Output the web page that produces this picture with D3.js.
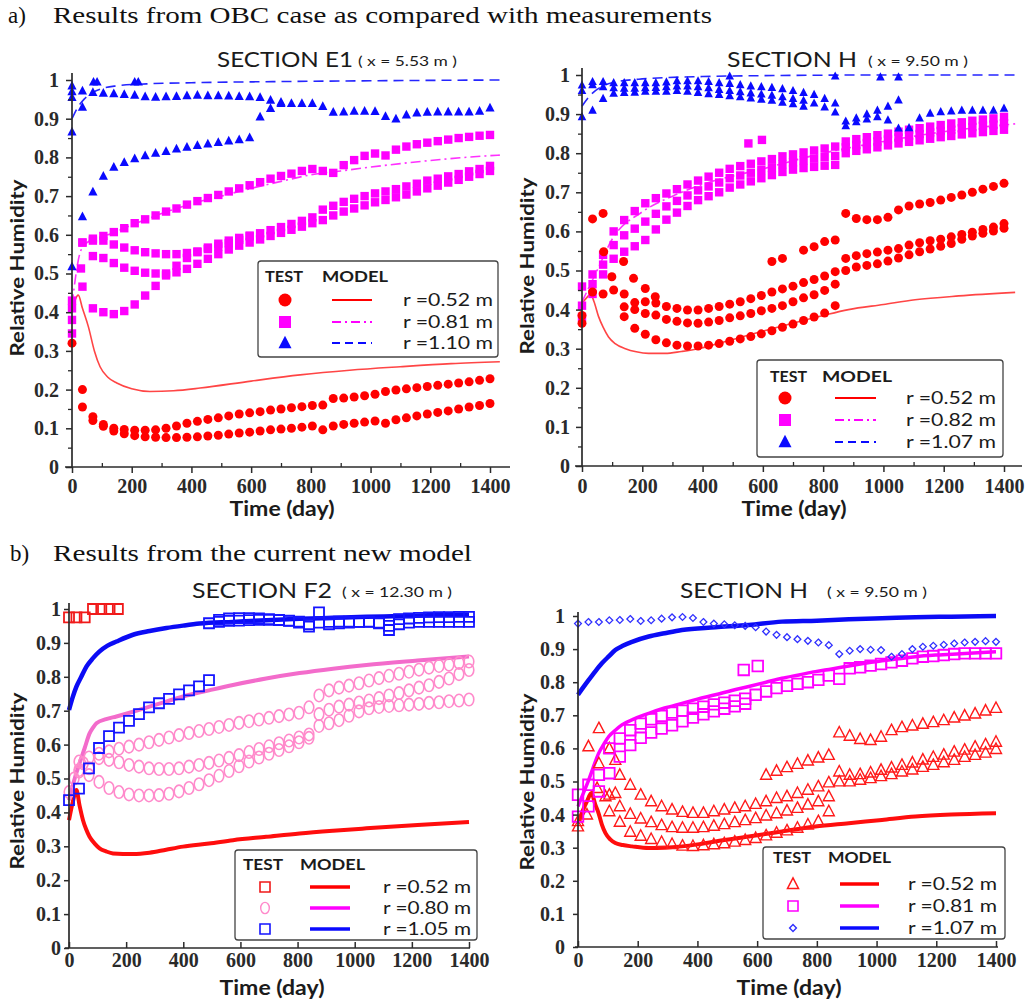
<!DOCTYPE html>
<html>
<head>
<meta charset="utf-8">
<script src="https://d3js.org/d3.v7.min.js"></script>
<style>
  body { margin: 0; background: #fff; }
  svg { display: block; }
</style>
</head>
<body>
<div id="chart"></div>
<script>
var _ = null;

// time grid (day) used by the test series: one reading every 35 days
var days = [0,35,70,105,140,175,210,245,280,315,350,385,420,455,490,525,560,595,630,665,
            700,735,770,805,840,875,910,945,980,1015,1050,1085,1120,1155,1190,1225,1260,1295,1330,1365,1400];
var timeTicks = [0,200,400,600,800,1000,1200,1400];
var timeMinor = [100,300,500,700,900,1100,1300];
var rhTicks = [0,0.1,0.2,0.3,0.4,0.5,0.6,0.7,0.8,0.9,1];
var rhMinor = [0.05,0.15,0.25,0.35,0.45,0.55,0.65,0.75,0.85,0.95];

// ---------- a) OBC case, SECTION E1 ----------
var e1RedA = [0.32,0.2,0.13,0.11,0.1,0.097,0.095,0.095,0.096,0.1,
  0.106,0.113,0.118,0.123,0.127,0.132,0.137,0.14,0.143,0.147,
  0.15,0.153,0.156,0.159,0.16,0.177,0.178,0.181,0.184,0.188,
  0.195,0.199,0.202,0.205,0.208,0.211,0.214,0.217,0.22,0.224,0.228];
var e1RedB = [_,0.155,0.12,0.105,0.093,0.086,0.081,0.078,0.077,0.076,
  0.076,0.077,0.078,0.08,0.082,0.085,0.088,0.09,0.093,0.096,
  0.098,0.1,0.103,0.106,0.096,0.106,0.11,0.113,0.116,0.119,
  0.113,0.122,0.127,0.132,0.137,0.141,0.145,0.15,0.155,0.159,0.164];
var e1MagA = [0.41,0.58,0.585,0.597,0.607,0.617,0.63,0.64,0.65,0.66,
  0.668,0.678,0.687,0.695,0.703,0.712,0.72,0.728,0.736,0.745,
  0.752,0.758,0.765,0.77,0.765,0.76,0.78,0.793,0.804,0.81,
  0.805,0.82,0.828,0.834,0.838,0.842,0.846,0.85,0.853,0.856,0.858];
var e1MagB = [_,0.58,0.59,0.585,0.575,0.567,0.56,0.555,0.552,0.55,
  0.55,0.553,0.557,0.563,0.57,0.578,0.587,0.596,0.604,0.612,
  0.62,0.628,0.636,0.645,0.665,0.675,0.685,0.693,0.7,0.707,
  0.712,0.718,0.725,0.732,0.74,0.745,0.751,0.757,0.764,0.77,0.778];
var e1MagC = [_,_,0.545,0.54,0.527,0.515,0.507,0.502,0.5,0.5,
  0.503,0.512,0.525,0.538,0.55,0.562,0.572,0.58,0.588,0.597,
  0.605,0.613,0.621,0.63,0.638,0.65,0.66,0.668,0.676,0.684,
  0.69,0.697,0.704,0.712,0.72,0.727,0.735,0.742,0.75,0.757,0.765];
var e1MagD = [0.38,0.466,0.41,0.4,0.395,0.403,0.42,0.443,0.468,0.495,
  0.52,0.54,0.555,0.567,0.577,0.585,0.592,0.598];
var e1MagX = [[0,0.43],[0,0.345],[30,0.513]];
var e1BlueA = [0.97,0.972,0.968,0.966,0.965,0.963,0.961,0.957,0.956,0.957,
  0.958,0.96,0.961,0.96,0.96,0.959,0.958,0.957,0.955,0.948,
  0.943,0.94,0.94,0.94,0.932,0.917,0.918,0.92,0.92,0.919,
  0.906,0.9,0.91,0.915,0.917,0.918,0.918,0.918,0.918,0.92,0.928];
var e1BlueB = [0.518,0.647,0.711,0.752,0.775,0.787,0.797,0.805,0.811,0.816,
  0.822,0.827,0.831,0.835,0.839,0.843,0.846,0.851,0.905,0.927,0.94];
var e1BlueX = [[0,0.866],[0,0.985],[0,0.955],[35,0.93],[72,0.995],[84,0.995],[210,0.995],[222,0.995]];
var e1RedModel = [[0,0.40],[10,0.43],[21,0.444],[35,0.41],[55,0.362],[75,0.30],[94,0.259],[120,0.232],
  [150,0.217],[200,0.202],[261,0.195],[340,0.197],[429,0.204],[600,0.222],[764,0.238],[930,0.25],
  [1099,0.259],[1270,0.267],[1433,0.272]];
var e1MagModel = [[0,0.42],[30,0.56],[60,0.585],[120,0.6],[200,0.625],[300,0.655],[400,0.68],[500,0.7],
  [600,0.72],[700,0.738],[800,0.755],[900,0.765],[1000,0.775],[1100,0.784],[1200,0.792],[1300,0.799],[1433,0.806]];
var e1BlueModel = [[0,0.9],[20,0.93],[40,0.95],[70,0.968],[100,0.978],[150,0.985],[250,0.99],[400,0.993],
  [700,0.996],[1000,0.998],[1433,1.0]];

// ---------- a) OBC case, SECTION H ----------
var haRedA = [_,0.632,0.646,_,_,_,_,_,_,_,
  _,_,_,_,_,_,_,_,0.523,0.531,
  _,0.552,0.561,0.574,0.578,0.646,0.633,0.63,0.63,0.636,
  0.655,0.665,0.67,0.674,0.68,0.687,0.693,0.7,0.708,0.715,0.723];
var haRedB = [0.365,0.445,0.44,0.45,0.44,0.418,0.42,0.417,0.408,0.403,
  0.399,0.399,0.403,0.408,0.414,0.42,0.428,0.436,0.445,0.453,
  0.46,0.469,0.477,0.486,0.497,0.531,0.538,0.543,0.547,0.552,
  0.556,0.565,0.571,0.576,0.58,0.586,0.592,0.598,0.605,0.611,0.62];
var haRedC = [_,_,_,_,0.407,0.4,0.39,0.386,0.375,0.37,
  0.366,0.365,0.368,0.372,0.379,0.384,0.39,0.397,0.403,0.41,
  0.42,0.43,0.438,0.449,0.465,0.5,0.509,0.513,0.517,0.524,
  0.532,0.54,0.548,0.555,0.562,0.569,0.58,0.588,0.595,0.601,0.608];
var haRedD = [_,_,_,_,0.382,0.352,0.337,0.323,0.315,0.309,
  0.307,0.307,0.309,0.313,0.319,0.325,0.331,0.338,0.346,0.355,
  0.363,0.372,0.381,0.391,0.41];
var haRedX = [[0,0.385],[72,0.548],[99,0.484],[138,0.523],[171,0.48],[210,0.454],[243,0.433]];
var haMagA = [0.459,0.49,0.54,0.6,0.629,0.652,0.672,0.685,0.697,0.708,
  0.72,0.73,0.74,0.75,0.76,0.767,0.773,0.779,0.785,0.792,
  0.797,0.802,0.807,0.812,0.817,0.83,0.836,0.841,0.846,0.85,
  0.855,0.86,0.864,0.868,0.872,0.876,0.879,0.883,0.886,0.889,0.893];
var haMagB = [0.38,0.44,0.49,0.53,0.548,0.562,0.578,0.605,0.63,0.648,
  0.665,0.68,0.69,0.7,0.712,0.72,0.728,0.736,0.744,0.752,
  0.758,0.762,0.765,0.768,0.77,0.8,0.806,0.81,0.815,0.82,
  0.825,0.829,0.833,0.837,0.841,0.844,0.848,0.851,0.854,0.857,0.86];
var haMagC = [0.41,0.465,0.515,0.565,0.59,0.607,0.625,0.645,0.664,0.678,
  0.692,0.705,0.715,0.725,0.736,0.743,0.75,0.757,0.764,0.772,
  0.777,0.782,0.786,0.79,0.793,0.815,0.821,0.826,0.83,0.835,
  0.84,0.845,0.849,0.853,0.857,0.86,0.864,0.867,0.87,0.873,0.877];
var haMagX = [[552,0.825],[597,0.834]];
var haBlueA = [0.974,0.983,0.983,0.98,0.98,0.98,0.98,0.98,0.982,0.985,
  0.985,0.985,0.983,0.98,0.978,0.975,0.972,0.97,0.968,0.965,
  0.96,0.955,0.95,0.94,0.928,0.882,0.89,0.9,0.91,0.92,
  0.936,0.865,0.89,0.902,0.906,0.908,0.91,0.91,0.91,0.91,0.915];
var haBlueB = [0.96,0.975,0.97,0.967,0.966,0.966,0.967,0.968,0.97,0.972,
  0.972,0.97,0.967,0.963,0.96,0.957,0.954,0.951,0.948,0.944,
  0.94,0.935,0.928,0.918,0.905,0.87,0.88,0.887,0.893,0.885,0.864];
var haBlueC = [0.893,0.91,0.94,0.953,0.955,0.956,0.958,0.958,0.958,0.96,
  0.958,0.955,0.952,0.95,0.947,0.944,0.941,0.938,0.935,0.93,0.926,0.92];
var haBlueX = [[490,0.997],[840,0.997],[990,0.995],[1050,0.995]];
var haRedModel = [[0,0.416],[15,0.43],[28,0.44],[40,0.42],[55,0.382],[70,0.355],[88,0.33],[110,0.313],
  [144,0.30],[180,0.292],[221,0.288],[276,0.288],[330,0.293],[387,0.30],[470,0.317],[553,0.335],
  [635,0.352],[718,0.369],[800,0.385],[884,0.40],[1000,0.413],[1105,0.425],[1250,0.435],[1437,0.444]];
var haMagModel = [[0,0.42],[50,0.5],[100,0.58],[200,0.65],[300,0.69],[400,0.72],[600,0.76],[800,0.8],
  [1000,0.83],[1200,0.855],[1437,0.875]];
var haBlueModel = [[0,0.92],[30,0.95],[60,0.968],[100,0.98],[200,0.99],[400,0.996],[700,0.999],
  [1000,1.0],[1437,1.0]];

// ---------- b) new model, SECTION F2 ----------
var f2RedSq = [[0,0.975],[26,0.975],[55,0.975],[84,1.0],[113,1.0],[142,1.0],[171,1.0]];
var f2PinkA = [_,0.55,0.562,0.573,0.58,0.588,0.594,0.6,0.607,0.614,
  0.621,0.628,0.634,0.64,0.646,0.652,0.658,0.664,0.669,0.674,
  0.679,0.684,0.689,0.694,0.71,0.745,0.76,0.768,0.774,0.781,
  0.789,0.796,0.803,0.809,0.815,0.821,0.827,0.832,0.836,0.841,0.845];
var f2PinkB = [_,0.52,0.53,0.56,0.555,0.548,0.54,0.535,0.53,0.528,
  0.528,0.53,0.535,0.54,0.546,0.553,0.561,0.569,0.578,0.587,
  0.595,0.604,0.612,0.621,0.63,0.69,0.703,0.712,0.718,0.724,
  0.73,0.737,0.745,0.752,0.76,0.768,0.775,0.785,0.795,0.808,0.82];
var f2PinkC = [_,0.525,0.51,0.49,0.472,0.46,0.453,0.45,0.45,0.451,
  0.455,0.462,0.472,0.483,0.495,0.508,0.522,0.536,0.55,0.562,
  0.573,0.584,0.595,0.607,0.62,0.655,0.663,0.672,0.685,0.698,
  0.707,0.711,0.714,0.716,0.718,0.72,0.723,0.725,0.728,0.73,0.733];
var f2PinkX = [[0,0.46],[18,0.5],[50,0.545]];
var f2BlueEarly = [0.436,0.47,0.53,0.59,0.625,0.65,0.67,0.69,0.71,0.722,
  0.735,0.748,0.76,0.772,0.79];
var f2BlueA = [_,_,_,_,_,_,_,_,_,_,
  _,_,_,_,0.958,0.962,0.965,0.966,0.967,0.968,
  0.968,0.967,0.966,0.963,0.955,0.96,0.962,0.963,0.963,0.962,
  0.963,0.96,0.938,0.955,0.96,0.962,0.962,0.962,0.962,0.962,0.962];
var f2BlueB = [_,_,_,_,_,_,_,_,_,_,
  _,_,_,_,_,0.968,0.972,0.973,0.973,0.972,
  0.97,0.968,0.965,0.96,0.948,0.99,0.955,0.958,0.96,0.962,
  0.962,0.958,0.95,0.97,0.972,0.974,0.975,0.976,0.976,0.977,0.977];
var f2RedModel = [[0,0.377],[13,0.43],[26,0.466],[37,0.42],[49,0.377],[60,0.35],[72,0.328],[90,0.308],
  [107,0.294],[130,0.285],[154,0.279],[224,0.277],[282,0.281],[340,0.29],[399,0.299],[490,0.308],
  [574,0.318],[690,0.328],[807,0.338],[924,0.346],[1041,0.353],[1220,0.363],[1400,0.372]];
var f2PinkModel = [[0,0.436],[20,0.5],[37,0.545],[55,0.59],[72,0.633],[84,0.65],[96,0.663],[130,0.675],
  [166,0.683],[224,0.697],[282,0.712],[340,0.727],[399,0.742],[490,0.76],[574,0.776],[690,0.795],
  [807,0.811],[924,0.824],[1041,0.835],[1220,0.848],[1400,0.86]];
var f2BlueModel = [[0,0.702],[13,0.74],[26,0.771],[43,0.8],[61,0.83],[84,0.855],[107,0.875],[135,0.892],
  [166,0.904],[224,0.924],[282,0.935],[341,0.944],[399,0.951],[457,0.957],[574,0.962],[691,0.967],
  [807,0.971],[924,0.974],[1041,0.977],[1157,0.979],[1280,0.982],[1400,0.984]];

// ---------- b) new model, SECTION H ----------
var hbTriA = [_,0.606,0.661,_,_,_,_,_,_,_,
  _,_,_,_,_,_,_,_,0.52,0.532,
  0.543,0.553,0.563,0.572,0.58,0.648,0.638,0.628,0.625,0.635,
  0.655,0.664,0.669,0.674,0.679,0.685,0.693,0.699,0.705,0.714,0.722];
var hbTriB = [_,_,0.555,0.6,0.52,0.49,0.46,0.44,0.425,0.415,
  0.408,0.405,0.405,0.41,0.415,0.42,0.425,0.432,0.44,0.45,
  0.455,0.465,0.475,0.485,0.497,0.53,0.52,0.522,0.527,0.535,
  0.542,0.55,0.557,0.566,0.574,0.581,0.59,0.596,0.605,0.612,0.62];
var hbTriC = [_,_,_,0.46,0.425,0.402,0.388,0.377,0.368,0.362,
  0.36,0.36,0.362,0.366,0.371,0.377,0.383,0.389,0.397,0.404,
  0.412,0.42,0.43,0.44,0.455,0.5,0.5,0.505,0.51,0.516,
  0.522,0.53,0.536,0.544,0.55,0.558,0.565,0.574,0.58,0.587,0.598];
var hbTriD = [_,_,_,0.41,0.378,0.348,0.336,0.326,0.317,0.311,
  0.306,0.305,0.307,0.31,0.313,0.318,0.323,0.329,0.337,0.345,
  0.352,0.36,0.37,0.38,0.41];
var hbTriX = [[0,0.364],[0,0.38],[30,0.4],[64,0.48],[92,0.455],[125,0.565],[125,0.465]];
var hbSqA = [0.46,0.49,0.52,0.6,0.63,0.655,0.675,0.688,0.698,0.708,
  0.714,0.72,0.726,0.733,0.738,0.744,0.75,0.762,0.772,0.782,
  0.789,0.795,0.8,0.807,0.82,0.81,0.842,0.845,0.85,0.855,
  0.86,0.865,0.872,0.877,0.879,0.882,0.885,0.887,0.887,0.887,0.887];
var hbSqB = [0.394,0.425,0.47,0.525,0.575,0.61,0.632,0.648,0.66,0.67,
  0.682,0.693,0.703,0.712,0.72,0.727,0.735];
var hbSqX = [[555,0.837],[602,0.849]];
var hbDia = [0.977,0.982,0.982,0.987,0.988,0.991,0.985,0.987,0.992,0.996,
  0.997,0.994,0.982,0.977,0.975,0.972,0.97,0.966,0.953,0.943,
  0.936,0.93,0.925,0.92,0.912,0.885,0.895,0.9,0.898,0.897,
  0.877,0.885,0.9,0.907,0.91,0.913,0.917,0.92,0.922,0.924,0.922];
var hbRedModel = [[0,0.374],[15,0.41],[30,0.44],[45,0.465],[58,0.43],[69,0.404],[80,0.37],[92,0.344],
  [108,0.325],[125,0.314],[150,0.308],[181,0.304],[237,0.299],[290,0.3],[348,0.304],[400,0.31],
  [460,0.319],[572,0.334],[683,0.349],[795,0.364],[907,0.374],[1018,0.384],[1130,0.394],[1250,0.4],[1400,0.404]];
var hbMagModel = [[0,0.425],[18,0.465],[36,0.505],[52,0.545],[69,0.585],[86,0.612],[103,0.636],[125,0.655],
  [147,0.671],[190,0.69],[237,0.706],[290,0.722],[348,0.736],[400,0.749],[460,0.762],[515,0.775],
  [572,0.787],[630,0.8],[683,0.812],[740,0.822],[795,0.832],[850,0.84],[907,0.849],[960,0.857],
  [1018,0.865],[1075,0.871],[1130,0.877],[1200,0.882],[1280,0.886],[1400,0.892]];
var hbBlueModel = [[0,0.762],[18,0.785],[36,0.807],[58,0.833],[80,0.857],[103,0.878],[125,0.897],[150,0.91],
  [181,0.922],[237,0.938],[290,0.948],[348,0.958],[460,0.966],[572,0.973],[683,0.983],[800,0.986],
  [907,0.99],[1018,0.993],[1130,0.996],[1250,0.998],[1400,1.0]];

// ---------- styling ----------
var ink = "#1b1b1b";
var serif = "'Liberation Serif', 'Times New Roman', serif";
var sans = "Lato, 'Open Sans', sans-serif";
var RED = "#ff0000", MAG = "#ff00ff", BLUE = "#0a0aff", PINK = "#ff8acb";

var svg = d3.select("#chart").append("svg")
    .attr("width", 1029)
    .attr("height", 1001);

function txt(g, x, y, str, o) {
    var t = g.append("text")
        .attr("x", x).attr("y", y)
        .attr("font-family", o.font || sans)
        .attr("font-size", o.size)
        .attr("font-weight", o.weight || "normal")
        .attr("fill", o.fill || ink)
        .attr("text-anchor", o.anchor || "start")
        .text(str);
    if (o.len) t.attr("textLength", o.len).attr("lengthAdjust", "spacingAndGlyphs");
    return t;
}

function pts(m) {
    if (m.pts) return m.pts;
    return m.vals.map(function (v, i) { return [days[i], v]; })
        .filter(function (d) { return d[1] != null; });
}

function symbolPath(shape, r) {
    if (shape == "square") return "M" + -r + "," + -r + "h" + 2 * r + "v" + 2 * r + "h" + -2 * r + "Z";
    if (shape == "triangle") return "M0," + (-r * 1.1) + "L" + r + "," + (r * 0.8) + "L" + -r + "," + (r * 0.8) + "Z";
    if (shape == "diamond") return "M0," + -r + "L" + r + ",0L0," + r + "L" + -r + ",0Z";
}

function drawSymbol(g, cx, cy, m) {
    var el;
    if (m.shape == "circle" || m.shape == "oval") {
        el = g.append("ellipse").attr("cx", cx).attr("cy", cy)
            .attr("rx", m.r).attr("ry", m.shape == "oval" ? m.r * 1.3 : m.r);
    } else {
        el = g.append("path").attr("transform", "translate(" + cx + "," + cy + ")")
            .attr("d", symbolPath(m.shape, m.r));
    }
    el.attr("fill", m.fill || "none")
        .attr("stroke", m.stroke || "none")
        .attr("stroke-width", m.sw || 0);
}

function drawPanel(p) {
    var x = d3.scaleLinear().domain([0, 1400]).range([p.x0, p.x1]);
    var y = d3.scaleLinear().domain([0, 1]).range([p.yb, p.yt]);
    var g = svg.append("g");

    var line = d3.line()
        .curve(d3.curveMonotoneX)
        .x(function (d) { return x(d[0]); })
        .y(function (d) { return y(d[1]); });

    // model curves first, test readings on top
    p.lines.forEach(function (l) {
        g.append("path")
            .attr("d", line(l.data))
            .attr("fill", "none")
            .attr("stroke", l.color)
            .attr("stroke-width", l.width)
            .attr("stroke-dasharray", l.dash || null);
    });
    p.marks.forEach(function (m) {
        var mg = g.append("g");
        pts(m).forEach(function (d) { drawSymbol(mg, x(d[0]), y(d[1]), m); });
    });

    // axes
    var axisColor = "#2b2b2b";
    g.append("line").attr("x1", p.xLine[0]).attr("x2", p.xLine[1])
        .attr("y1", p.yb).attr("y2", p.yb).attr("stroke", axisColor).attr("stroke-width", 1.7);
    g.append("line").attr("x1", p.x0).attr("x2", p.x0)
        .attr("y1", p.yb).attr("y2", p.yTop).attr("stroke", axisColor).attr("stroke-width", 1.7);

    var xa = g.append("g").attr("transform", "translate(0," + p.yb + ")")
        .call(d3.axisBottom(x).tickValues(timeTicks).tickFormat(d3.format("d"))
            .tickSize(p.kind == "a" ? 6 : -6).tickSizeOuter(0).tickPadding(p.xPad));
    var ya = g.append("g").attr("transform", "translate(" + p.x0 + ",0)")
        .call(d3.axisLeft(y).tickValues(rhTicks).tickFormat(function (d) { return String(d); })
            .tickSize(p.kind == "a" ? 6 : 5).tickSizeOuter(0).tickPadding(p.yPad));
    [xa, ya].forEach(function (a) {
        a.select(".domain").remove();
        a.selectAll(".tick line").attr("stroke", axisColor).attr("stroke-width", 1.5);
        a.selectAll("text").attr("font-family", serif).attr("font-size", 20)
            .attr("font-weight", "bold").attr("fill", "#2a2a2a");
    });
    if (p.kind == "a") {
        var xm = g.append("g").attr("transform", "translate(0," + p.yb + ")")
            .call(d3.axisBottom(x).tickValues(timeMinor).tickFormat("").tickSize(-4).tickSizeOuter(0));
        var ym = g.append("g").attr("transform", "translate(" + p.x0 + ",0)")
            .call(d3.axisLeft(y).tickValues(rhMinor).tickFormat("").tickSize(4).tickSizeOuter(0));
        [xm, ym].forEach(function (a) {
            a.select(".domain").remove();
            a.selectAll(".tick line").attr("stroke", axisColor).attr("stroke-width", 1.3);
        });
    }

    // titles
    txt(g, p.titleX, p.titleY, p.title, { size: 22, len: p.titleLen });
    txt(g, p.subX, p.titleY - 1, p.sub, { size: 13, len: p.subLen });
    txt(g, p.timeX, p.timeY, "Time (day)", { size: 20, weight: "bold", anchor: "middle", len: 105 });
    txt(g, 0, 0, "Relative Humidity", { size: 19, weight: "bold", anchor: "middle", len: 177 })
        .attr("transform", "translate(" + p.rhX + "," + p.rhY + ") rotate(-90)");

    // legend
    var L = p.legend;
    var lg = g.append("g");
    lg.append("rect").attr("x", L.box[0]).attr("y", L.box[1]).attr("width", L.box[2]).attr("height", L.box[3])
        .attr("rx", 3).attr("fill", "#fff").attr("stroke", "#444").attr("stroke-width", 1.3);
    txt(lg, L.testX, L.headY, "TEST", { size: 15, weight: "bold", len: L.testLen });
    txt(lg, L.modelX, L.headY, "MODEL", { size: 15, weight: "bold", len: L.modelLen });
    L.items.forEach(function (it, i) {
        var ry = L.rows[i];
        drawSymbol(lg, L.markX, ry, it.mark);
        lg.append("line").attr("x1", L.line[0]).attr("x2", L.line[1]).attr("y1", ry).attr("y2", ry)
            .attr("stroke", it.color).attr("stroke-width", it.width)
            .attr("stroke-dasharray", it.dash || null);
        txt(lg, L.labX, ry + 6, it.text, { size: 18, len: L.labLen });
    });
}

// ---------- section headers ----------
txt(svg, 8, 23, "a)", { font: serif, size: 23, fill: "#111" });
txt(svg, 53, 23, "Results from OBC case as compared with measurements", { font: serif, size: 23, fill: "#111", len: 659 });
txt(svg, 10, 561, "b)", { font: serif, size: 23, fill: "#111" });
txt(svg, 53, 561, "Results from the current new model", { font: serif, size: 23, fill: "#111", len: 419 });

var panels = [
    {
        kind: "a", x0: 72, x1: 490, yb: 467, yt: 80, xLine: [65, 510], yTop: 73, xPad: 6, yPad: 7,
        title: "SECTION E1", titleX: 217, titleLen: 136, sub: "( x = 5.53 m )", subX: 358, subLen: 99, titleY: 67,
        timeX: 282, timeY: 516, rhX: 24, rhY: 268,
        lines: [
            { data: e1RedModel, color: "#ff4545", width: 1.6 },
            { data: e1MagModel, color: "#ff30ff", width: 1.6, dash: "10,4,2,4" },
            { data: e1BlueModel, color: "#2525ff", width: 1.6, dash: "10,6" }
        ],
        marks: [
            { vals: e1BlueA, shape: "triangle", r: 4.6, fill: BLUE },
            { vals: e1BlueB, shape: "triangle", r: 4.6, fill: BLUE },
            { pts: e1BlueX, shape: "triangle", r: 4.6, fill: BLUE },
            { vals: e1MagA, shape: "square", r: 4.2, fill: MAG },
            { vals: e1MagB, shape: "square", r: 4.2, fill: MAG },
            { vals: e1MagC, shape: "square", r: 4.2, fill: MAG },
            { vals: e1MagD, shape: "square", r: 4.2, fill: MAG },
            { pts: e1MagX, shape: "square", r: 4.2, fill: MAG },
            { vals: e1RedA, shape: "circle", r: 4.5, fill: RED },
            { vals: e1RedB, shape: "circle", r: 4.5, fill: RED }
        ],
        legend: {
            box: [258, 261, 240, 96], headY: 282, testX: 265, testLen: 38, modelX: 322, modelLen: 66,
            rows: [300, 322, 343], markX: 285, line: [332, 372], labX: 403, labLen: 90,
            items: [
                { mark: { shape: "circle", r: 6.5, fill: RED }, color: RED, width: 2, text: "r =0.52 m" },
                { mark: { shape: "square", r: 6, fill: MAG }, color: MAG, width: 2, dash: "9,4,2,4", text: "r =0.81 m" },
                { mark: { shape: "triangle", r: 6.5, fill: BLUE }, color: BLUE, width: 2, dash: "8,5", text: "r =1.10 m" }
            ]
        }
    },
    {
        kind: "a", x0: 582, x1: 1004, yb: 466, yt: 75, xLine: [575, 1022], yTop: 68, xPad: 7, yPad: 6,
        title: "SECTION H", titleX: 727, titleLen: 130, sub: "( x = 9.50 m )", subX: 868, subLen: 100, titleY: 67,
        timeX: 794, timeY: 516, rhX: 534, rhY: 266,
        lines: [
            { data: haRedModel, color: "#ff4545", width: 1.6 },
            { data: haMagModel, color: "#ff30ff", width: 1.6, dash: "10,4,2,4" },
            { data: haBlueModel, color: "#2525ff", width: 1.6, dash: "10,6" }
        ],
        marks: [
            { vals: haMagB, shape: "square", r: 4.2, fill: MAG },
            { vals: haMagC, shape: "square", r: 4.2, fill: MAG },
            { vals: haMagA, shape: "square", r: 4.2, fill: MAG },
            { pts: haMagX, shape: "square", r: 4.2, fill: MAG },
            { vals: haRedA, shape: "circle", r: 4.5, fill: RED },
            { vals: haRedB, shape: "circle", r: 4.5, fill: RED },
            { vals: haRedC, shape: "circle", r: 4.5, fill: RED },
            { vals: haRedD, shape: "circle", r: 4.5, fill: RED },
            { pts: haRedX, shape: "circle", r: 4.5, fill: RED },
            { vals: haBlueC, shape: "triangle", r: 4.3, fill: BLUE },
            { vals: haBlueB, shape: "triangle", r: 4.3, fill: BLUE },
            { vals: haBlueA, shape: "triangle", r: 4.3, fill: BLUE },
            { pts: haBlueX, shape: "triangle", r: 4.3, fill: BLUE }
        ],
        legend: {
            box: [757, 360, 246, 97], headY: 382, testX: 770, testLen: 37, modelX: 822, modelLen: 70,
            rows: [398, 420, 442], markX: 785, line: [835, 876], labX: 906, labLen: 90,
            items: [
                { mark: { shape: "circle", r: 6.5, fill: RED }, color: RED, width: 2, text: "r =0.52 m" },
                { mark: { shape: "square", r: 6, fill: MAG }, color: MAG, width: 2, dash: "9,4,2,4", text: "r =0.82 m" },
                { mark: { shape: "triangle", r: 6.5, fill: BLUE }, color: BLUE, width: 2, dash: "8,5", text: "r =1.07 m" }
            ]
        }
    },
    {
        kind: "b", x0: 69, x1: 469, yb: 948, yt: 609, xLine: [65, 470], yTop: 603, xPad: 5, yPad: 3,
        title: "SECTION F2", titleX: 192, titleLen: 140, sub: "( x = 12.30 m )", subX: 342, subLen: 110, titleY: 598,
        timeX: 272, timeY: 995, rhX: 24, rhY: 781,
        lines: [
            { data: f2RedModel, color: "#ff0d0d", width: 4 },
            { data: f2PinkModel, color: "#f36ccb", width: 4 },
            { data: f2BlueModel, color: "#0b0bf5", width: 4.5 }
        ],
        marks: [
            { vals: f2PinkA, shape: "oval", r: 4.8, stroke: PINK, sw: 1.6 },
            { vals: f2PinkB, shape: "oval", r: 4.8, stroke: PINK, sw: 1.6 },
            { vals: f2PinkC, shape: "oval", r: 4.8, stroke: PINK, sw: 1.6 },
            { pts: f2PinkX, shape: "oval", r: 4.8, stroke: PINK, sw: 1.6 },
            { vals: f2BlueEarly, shape: "square", r: 5, stroke: "#1515ff", sw: 1.8 },
            { vals: f2BlueA, shape: "square", r: 5, stroke: "#1515ff", sw: 1.8 },
            { vals: f2BlueB, shape: "square", r: 5, stroke: "#1515ff", sw: 1.8 },
            { pts: f2RedSq, shape: "square", r: 5, stroke: "#f01a1a", sw: 1.8 }
        ],
        legend: {
            box: [235, 850, 242, 90], headY: 870, testX: 243, testLen: 40, modelX: 300, modelLen: 65,
            rows: [887, 908, 929], markX: 265, line: [310, 350], labX: 383, labLen: 88,
            items: [
                { mark: { shape: "square", r: 5, stroke: "#f01a1a", sw: 1.6 }, color: "#f00", width: 3.5, text: "r =0.52 m" },
                { mark: { shape: "oval", r: 4.3, stroke: PINK, sw: 1.4 }, color: MAG, width: 3.5, text: "r =0.80 m" },
                { mark: { shape: "square", r: 5, stroke: "#1515ff", sw: 1.6 }, color: BLUE, width: 3.5, text: "r =1.05 m" }
            ]
        }
    },
    {
        kind: "b", x0: 578, x1: 996, yb: 947, yt: 616, xLine: [575, 998], yTop: 612, xPad: 6, yPad: 8,
        title: "SECTION H", titleX: 680, titleLen: 128, sub: "( x = 9.50 m )", subX: 827, subLen: 100, titleY: 598,
        timeX: 789, timeY: 995, rhX: 534, rhY: 782,
        lines: [
            { data: hbRedModel, color: "#ff0d0d", width: 4 },
            { data: hbMagModel, color: "#ff00ff", width: 3.5 },
            { data: hbBlueModel, color: "#0b0bf5", width: 4.5 }
        ],
        marks: [
            { vals: hbTriA, shape: "triangle", r: 5.5, stroke: "#ff1a1a", sw: 1.4 },
            { vals: hbTriB, shape: "triangle", r: 5.5, stroke: "#ff1a1a", sw: 1.4 },
            { vals: hbTriC, shape: "triangle", r: 5.5, stroke: "#ff1a1a", sw: 1.4 },
            { vals: hbTriD, shape: "triangle", r: 5.5, stroke: "#ff1a1a", sw: 1.4 },
            { pts: hbTriX, shape: "triangle", r: 5.5, stroke: "#ff1a1a", sw: 1.4 },
            { vals: hbSqB, shape: "square", r: 5.3, stroke: MAG, sw: 1.8 },
            { vals: hbSqA, shape: "square", r: 5.3, stroke: MAG, sw: 1.8 },
            { pts: hbSqX, shape: "square", r: 5.3, stroke: MAG, sw: 1.8 },
            { vals: hbDia, shape: "diamond", r: 3.4, stroke: "#3030ff", sw: 1.3 }
        ],
        legend: {
            box: [763, 847, 242, 92], headY: 863, testX: 773, testLen: 38, modelX: 828, modelLen: 63,
            rows: [884, 906, 928], markX: 793, line: [840, 879], labX: 908, labLen: 89,
            items: [
                { mark: { shape: "triangle", r: 5.5, stroke: "#ff1a1a", sw: 1.5 }, color: "#f00", width: 3.5, text: "r =0.52 m" },
                { mark: { shape: "square", r: 5, stroke: MAG, sw: 1.6 }, color: MAG, width: 3.5, text: "r =0.81 m" },
                { mark: { shape: "diamond", r: 3.4, stroke: "#3030ff", sw: 1.4 }, color: BLUE, width: 3.5, text: "r =1.07 m" }
            ]
        }
    }
];

panels.forEach(drawPanel);
</script>
</body>
</html>
